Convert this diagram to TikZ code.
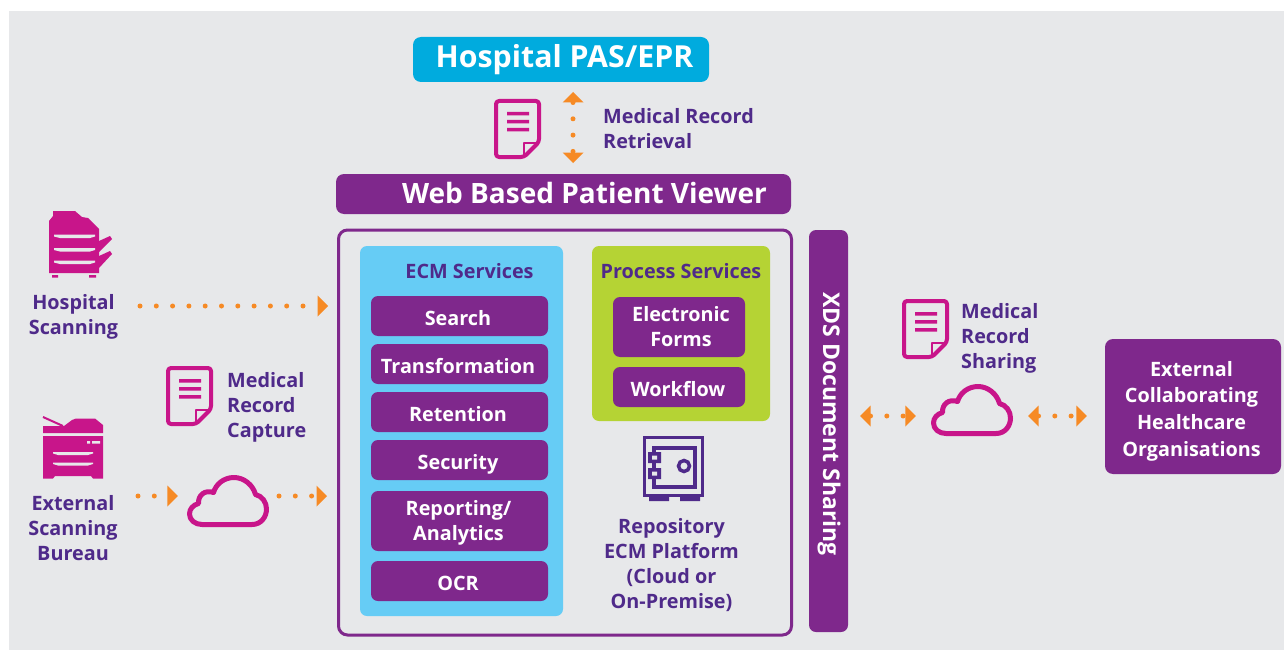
\documentclass[tikz,border=0pt]{standalone}
\usepackage{fontspec}
\setmainfont{Open Sans}
\usetikzlibrary{arrows.meta}
\definecolor{bgc}{HTML}{E7E8EA}
\definecolor{mag}{HTML}{C8158A}
\definecolor{ink}{HTML}{4F2A8A}
\definecolor{pur}{HTML}{7F288C}
\definecolor{sky}{HTML}{00ABDE}
\definecolor{lsky}{HTML}{66CCF5}
\definecolor{lime}{HTML}{B5D334}
\definecolor{org}{HTML}{F68A25}
\tikzset{
  x=1pt,y=-1pt,
  fs/.style={font=\fontsize{#1}{25pt}\selectfont\bfseries},
  lab/.style={text=ink,fs=19.8pt,align=center,inner sep=0pt},
  labl/.style={text=ink,fs=19.8pt,align=left,inner sep=0pt,anchor=north west},
  btnbox/.style={fill=pur,rounded corners=7pt,inner sep=0pt},
  btn/.style={btnbox,text=white,fs=19.8pt,text height=19pt,text depth=0pt},
  btntxt/.style={text=white,fs=19.8pt,align=center,inner sep=0pt},
  flow/.style={draw=org,line width=5pt,line cap=round,dash pattern=on 0pt off 16.3pt},
  oneway/.style={flow,-{Triangle[length=10.5pt,width=21pt,line width=0pt,fill=org]}},
  twoway/.style={flow,{Triangle[length=10.5pt,width=21pt,line width=0pt,fill=org]}-{Triangle[length=10.5pt,width=21pt,line width=0pt,fill=org]}},
  pics/docicon/.style={code={
    \draw[mag,line width=4pt,rounded corners=3pt,fill=none,line join=round]
      (2,2) -- (45,2) -- (45,43) -- (30,58) -- (2,58) -- cycle;
    \draw[mag,line width=2pt,line join=round] (30,57) -- (30,44) -- (44,44);
    \fill[mag] (13,13) rectangle (35,16.5) (13,21) rectangle (35,24.5) (13,29) rectangle (35,32.5);
  }},
  pics/cloudicon/.style={code={
    \draw[mag,line width=5pt,line join=round]
      (15,49.5) -- (65,49.5) .. controls (74,49.5) and (79.5,42) .. (79.5,34)
      .. controls (79.5,27) and (75,21) .. (68.5,19.5)
      .. controls (66,10) and (57,2.5) .. (47,2.5)
      .. controls (37,2.5) and (29,9) .. (26.5,17.5)
      .. controls (18,14.5) and (11,20) .. (11.5,28.5)
      .. controls (6,30) and (2.5,34) .. (2.5,39)
      .. controls (2.5,45) and (8,49.5) .. (15,49.5) -- cycle;
  }},
}
\begin{document}
\begin{tikzpicture}
\useasboundingbox (0,0) rectangle (1284,650);
\fill[bgc] (9,11) rectangle (1284,650);

% top bars
\node[fill=sky,rounded corners=8pt,minimum width=296pt,minimum height=45pt,inner sep=0pt] (pas) at (561,59.5) {};
\node[text=white,fs=30.3pt,inner sep=0pt] (pastxt) at (564.5,60) {Hospital PAS/EPR};
\node[fill=pur,rounded corners=8pt,minimum width=455pt,minimum height=40pt,inner sep=0pt] (web) at (563.5,194) {};
\node[text=white,fs=28pt,inner sep=0pt] (webtxt) at (584.5,193) {Web Based Patient Viewer};

% frame and panels
\node[draw=pur,line width=3pt,rounded corners=9pt,minimum width=453pt,minimum height=405pt,inner sep=0pt] (frame) at (565,432.5) {};
\node[fill=lsky,rounded corners=7pt,minimum width=203pt,minimum height=370pt,inner sep=0pt] (ecm) at (461.5,431) {};
\node[fill=lime,rounded corners=7pt,minimum width=178pt,minimum height=175pt,inner sep=0pt] (proc) at (681,333.5) {};
\node[text=ink,fs=19.8pt,inner sep=0pt] (ecmt) at (469.5,271) {ECM Services};
\node[text=ink,fs=19.8pt,inner sep=0pt] (proct) at (681,271) {Process Services};

\node[btn,minimum width=177pt,minimum height=40pt] (b1) at (459.5,316) {Search\hspace*{3pt}};
\node[btn,minimum width=177pt,minimum height=40pt] (b2) at (459.5,364) {Transformation\hspace*{3pt}};
\node[btn,minimum width=177pt,minimum height=40pt] (b3) at (459.5,412) {Retention\hspace*{3pt}};
\node[btn,minimum width=177pt,minimum height=40pt] (b4) at (459.5,460) {Security\hspace*{3pt}};
\node[btnbox,minimum width=177pt,minimum height=60pt] (b5) at (459.5,521) {};
\node[btntxt] (b5t) at (458.5,522.5) {Reporting/\\Analytics};
\node[btn,minimum width=177pt,minimum height=40pt] (b6) at (459.5,581) {OCR\hspace*{3pt}};
\node[btnbox,minimum width=132pt,minimum height=60pt] (p1) at (679,327) {};
\node[btntxt] (p1t) at (681,326.5) {Electronic\\Forms};
\node[btn,minimum width=132pt,minimum height=40pt] (p2) at (679,387) {Workflow\hspace*{2pt}};

% safe
\begin{scope}[ink]
\draw[line width=3pt] (644.5,437.5) rectangle (702.5,495.5);
\draw[line width=3.5pt] (654,448) rectangle (695,487);
\fill (649,497) rectangle (669,501) (680,497) rectangle (700,501);
\fill (648,452) rectangle (661,463) (648,468) rectangle (661,479);
\fill[bgc] (652,455.5) rectangle (657,459.5) (652,471.5) rectangle (657,475.5);
\draw[line width=3.5pt] (684,466) circle (5.5);
\end{scope}
\node[lab] (repo) at (671.5,565) {Repository\\ECM Platform\\(Cloud or\\On-Premise)};

% XDS
\node[fill=pur,rounded corners=7pt,minimum width=39pt,minimum height=402pt,inner sep=0pt] (xds) at (828.5,431) {};
\node[text=white,fs=23pt,inner sep=0pt,rotate=-90] (xdst) at (829,424) {XDS Document Sharing};

% external
\node[fill=pur,rounded corners=8pt,minimum width=176pt,minimum height=135pt,inner sep=0pt] (ext) at (1193,406.5) {};
\node[text=white,font=\fontsize{19.8pt}{26.7pt}\selectfont\bfseries,align=center,inner sep=0pt] (extt) at (1191.5,411) {External\\Collaborating\\Healthcare\\Organisations};

% icons
\pic at (494,99) {docicon};
\pic at (166,366) {docicon};
\pic at (902,299) {docicon};
\node[minimum width=82pt,minimum height=52pt,inner sep=0pt] (c1) at (228,501) {};
\node[minimum width=82pt,minimum height=52pt,inner sep=0pt] (c2) at (972,410) {};
\pic at (187,475) {cloudicon};
\pic at (931,384) {cloudicon};

% printer 1
\fill[mag] (53,211) -- (75,211) -- (82,217) -- (88,218) -- (99,229) -- (99,273) -- (49,273) -- (49,221) -- (53,216) -- cycle;
\fill[mag] (99,241) -- (110,236) -- (112,239) -- (99,252) -- cycle;
\fill[mag] (99,256) -- (110,251) -- (112,254) -- (99,268) -- cycle;
\fill[mag] (52,275) rectangle (58,277.5) (89,275) rectangle (96,277.5);
\fill[bgc] (54,234.5) -- (95,234.5) -- (95,236.5) -- (90,238) -- (60,238) -- (54,236.5) -- cycle;
\fill[bgc] (54,248) -- (95,248) -- (95,250) -- (90,251.5) -- (60,251.5) -- (54,250) -- cycle;
\fill[bgc] (54,260.5) -- (95,260.5) -- (95,262.5) -- (90,264) -- (60,264) -- (54,262.5) -- cycle;

% printer 2
\draw[mag,line width=2pt] (43,417) -- (63,426);
\fill[mag] (43,433) -- (43,426) -- (64,426) -- (72,420) -- (76,418.5) -- (95,418.5) -- (103,425) -- (103,433) -- cycle;
\fill[mag] (43,436) -- (103,436) -- (103,478.5) -- (93,478.5) -- (91,476) -- (55,476) -- (53,478.5) -- (43,478.5) -- cycle;
\fill[bgc] (87,441) rectangle (90,443.5) (92,441) rectangle (100,443.5);
\fill[bgc] (53,452) -- (93,452) -- (93,453.5) -- (88,455) -- (58,455) -- (53,453.5) -- cycle;
\fill[bgc] (53,462.5) -- (93,462.5) -- (93,464) -- (88,465.5) -- (58,465.5) -- (53,464) -- cycle;

% labels
\node[lab] (hs) at (73.5,316.5) {Hospital\\Scanning};
\node[lab] (eb) at (73,528) {External\\Scanning\\Bureau};
\node[labl] (lcap) at (227,372) {Medical\\Record\\Capture};
\node[labl] (lret) at (603,108) {Medical Record\\Retrieval};
\node[labl] (lsha) at (961,303) {Medical\\Record\\Sharing};

% connectors
\coordinate (hsout) at (140,306);
\coordinate (ebout) at (138,496);
\coordinate (c1out) at (279,496);
\coordinate (docup) at (573,92);
\coordinate (docdn) at (573,163);
\coordinate (xdsr) at (860,416);
\coordinate (c2r) at (1028,416);
\draw[oneway,shorten >=9pt] (hsout) -- (hsout -| frame.west);
\draw[oneway,shorten >=9pt] (ebout) -- (ebout -| c1.west);
\draw[oneway,shorten >=10pt] (c1out) -- (c1out -| frame.west);
\draw[twoway] (docup) -- (docdn);
\draw[twoway,shorten >=15pt] (xdsr) -- (xdsr -| c2.west);
\draw[twoway,shorten >=18pt] (c2r) -- (c2r -| ext.west);
\end{tikzpicture}
\end{document}
